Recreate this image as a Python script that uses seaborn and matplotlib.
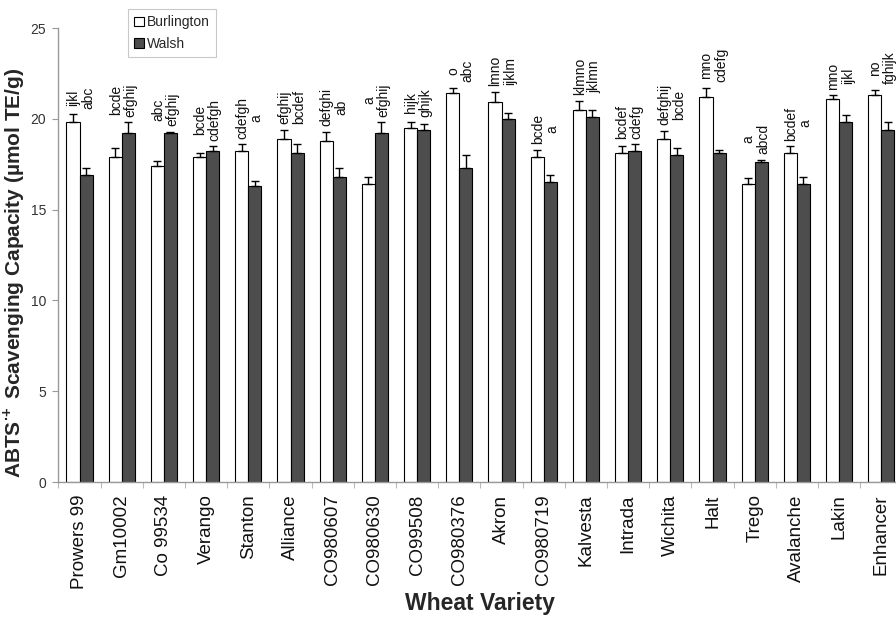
import matplotlib
matplotlib.use("Agg")
import matplotlib.pyplot as plt
from matplotlib.patches import Patch
import seaborn as sns
import pandas as pd
import numpy as np

varieties = ["Prowers 99", "Gm10002", "Co 99534", "Verango", "Stanton", "Alliance",
             "CO980607", "CO980630", "CO99508", "CO980376", "Akron", "CO980719",
             "Kalvesta", "Intrada", "Wichita", "Halt", "Trego", "Avalanche", "Lakin", "Enhancer"]
burlington = [19.8, 17.9, 17.4, 17.9, 18.2, 18.9, 18.8, 16.4, 19.5, 21.4, 20.9, 17.9,
              20.5, 18.1, 18.9, 21.2, 16.4, 18.1, 21.1, 21.3]
burlington_err = [0.45, 0.5, 0.3, 0.2, 0.4, 0.5, 0.5, 0.4, 0.3, 0.3, 0.6, 0.4,
                  0.5, 0.4, 0.45, 0.5, 0.35, 0.4, 0.2, 0.3]
walsh = [16.9, 19.2, 19.2, 18.2, 16.3, 18.1, 16.8, 19.2, 19.4, 17.3, 20.0, 16.5,
         20.1, 18.2, 18.0, 18.1, 17.6, 16.4, 19.8, 19.4]
walsh_err = [0.4, 0.6, 0.1, 0.3, 0.3, 0.5, 0.5, 0.6, 0.3, 0.7, 0.3, 0.4,
             0.4, 0.4, 0.4, 0.2, 0.15, 0.4, 0.4, 0.4]
burlington_letters = ["ijkl", "bcde", "abc", "bcde", "cdefgh", "efghij", "defghi", "a", "hijk", "o",
                      "lmno", "bcde", "klmno", "bcdef", "defghij", "mno", "a", "bcdef", "mno", "no"]
walsh_letters = ["abc", "efghij", "efghij", "cdefgh", "a", "bcdef", "ab", "efghij", "ghijk", "abc",
                 "ijklm", "a", "jklmn", "cdefg", "bcde", "cdefg", "abcd", "a", "ijkl", "fghijk"]
sites = ["Burlington", "Walsh"]
y_ticks = [0, 5, 10, 15, 20, 25]

df = pd.DataFrame({
    "Variety": varieties * 2,
    "Site": [sites[0]] * len(varieties) + [sites[1]] * len(varieties),
    "Value": burlington + walsh,
})

sns.set_style("white")
plt.rcParams["font.family"] = ["Liberation Sans", "DejaVu Sans"]
plt.rcParams["mathtext.fontset"] = "custom"
plt.rcParams["mathtext.rm"] = "Liberation Sans"
plt.rcParams["mathtext.bf"] = "Liberation Sans:bold"

fig = plt.figure(figsize=(8.96, 6.21), dpi=100)
W, H = 896, 621
left_px, right_px, top_px, bottom_px = 58.4, 902.4, 28, 482
ax = fig.add_axes([left_px / W, 1 - bottom_px / H, (right_px - left_px) / W, (bottom_px - top_px) / H])

colors = {"Burlington": "#ffffff", "Walsh": "#4d4d4d"}
sns.barplot(data=df, x="Variety", y="Value", hue="Site", order=varieties, hue_order=sites,
            palette=colors, edgecolor="black", linewidth=0.8, width=0.62, gap=0,
            errorbar=None, legend=False, ax=ax, saturation=1)

errs = [burlington_err, walsh_err]
vals = [burlington, walsh]
centers = []
for k, cont in enumerate(ax.containers[:2]):
    xs = [b.get_x() + b.get_width() / 2 for b in cont]
    centers.append(xs)
    ax.errorbar(xs, vals[k], yerr=[np.zeros(len(xs)), errs[k]], fmt="none",
                ecolor="black", elinewidth=1, capsize=2.8, capthick=1, zorder=3)

for i in range(len(varieties)):
    top = max(burlington[i] + burlington_err[i], walsh[i] + walsh_err[i])
    xc = (centers[0][i] + centers[1][i]) / 2 + 0.03
    ax.text(xc, top + 0.3, f"{burlington_letters[i]}\n{walsh_letters[i]}", rotation=90,
            ha="center", va="bottom", multialignment="center", fontsize=10,
            linespacing=1.05, color="#111111", clip_on=False)

ax.set_xlim(-0.5, len(varieties) - 0.5)
ax.set_ylim(0, 25)
ax.set_yticks(y_ticks)
ax.set_yticklabels([str(t) for t in y_ticks])
ax.tick_params(axis="y", which="major", direction="out", length=4, width=0.8, color="#999999",
               labelsize=10, labelcolor="#333333", pad=5, left=True)
ax.set_xticks(range(len(varieties)))
ax.set_xticklabels(varieties, rotation=90, fontsize=13.5, color="#111111")
ax.set_xticks(np.arange(-0.5, len(varieties), 1), minor=True)
ax.tick_params(axis="x", which="major", length=0, pad=9)
ax.tick_params(axis="x", which="minor", direction="out", length=4, width=0.8, color="#bbbbbb", bottom=True)

for s in ["top", "right"]:
    ax.spines[s].set_visible(False)
for s in ["left", "bottom"]:
    ax.spines[s].set_color("#999999")
    ax.spines[s].set_linewidth(1)

ax.set_xlabel("Wheat Variety", fontsize=16.5, fontweight="bold", labelpad=2)
ax.set_ylabel(r"ABTS$^{\mathbf{\bullet\!+}}$ Scavenging Capacity (µmol TE/g)", fontsize=15, fontweight="bold")
ax.yaxis.set_label_coords(-0.037, 0.46)

handles = [Patch(facecolor=colors[s], edgecolor="black", linewidth=0.8, label=s) for s in sites]
leg = fig.legend(handles=handles, loc="upper left", bbox_to_anchor=(128 / W, 1 - 9 / H),
                 fontsize=10, frameon=True, fancybox=False, handlelength=0.7, handleheight=0.7,
                 handletextpad=0.2, labelspacing=0.55, borderpad=0.45, borderaxespad=0)
leg.get_frame().set_edgecolor("#bbbbbb")
leg.get_frame().set_linewidth(0.8)

fig.savefig("out.png", dpi=100)
